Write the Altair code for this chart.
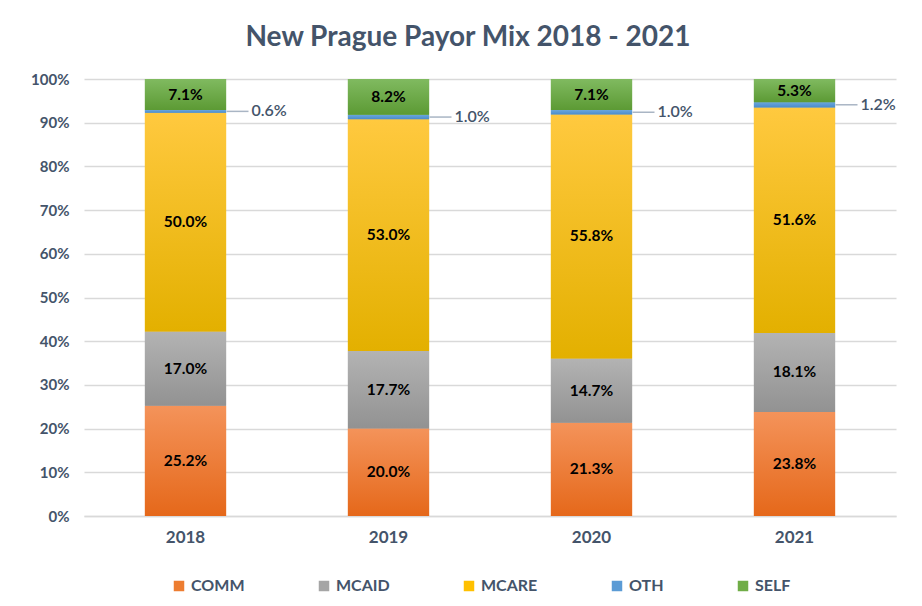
import altair as alt
import pandas as pd

years = ["2018", "2019", "2020", "2021"]
series = ["COMM", "MCAID", "MCARE", "OTH", "SELF"]
comm = [25.2, 20.0, 21.3, 23.8]
mcaid = [17.0, 17.7, 14.7, 18.1]
mcare = [50.0, 53.0, 55.8, 51.6]
oth = [0.6, 1.0, 1.0, 1.2]
self_pay = [7.1, 8.2, 7.1, 5.3]

solid = ["#ED7D31", "#A5A5A5", "#FFC000", "#5B9BD5", "#70AD47"]
grad_top = ["#F4935A", "#B3B3B3", "#FFC93F", "#6AA6DC", "#80BA60"]
grad_bottom = ["#E5681A", "#929292", "#E3B000", "#4A8CCB", "#5C9A34"]

values = [comm, mcaid, mcare, oth, self_pay]
rows = []
for si, s in enumerate(series):
    for yi, yr in enumerate(years):
        rows.append({"year": yr, "series": s, "value": values[si][yi], "order": si})
df = pd.DataFrame(rows)

FONT = "Lato"
SLATE = "#44546A"

base = (
    alt.Chart(df)
    .transform_stack(
        stack="value",
        groupby=["year"],
        as_=["y0", "y1"],
        sort=[alt.SortField("order", order="ascending")],
        offset="normalize",
    )
    .transform_calculate(
        mid="(datum.y0 + datum.y1) / 2",
        label="format(datum.value, '.1f') + '%'",
    )
)

x = alt.X(
    "year:N",
    sort=years,
    title=None,
    scale=alt.Scale(paddingInner=0.6, paddingOuter=0.3),
    axis=alt.Axis(
        labelAngle=0,
        labelFont=FONT,
        labelFontSize=17,
        labelFontWeight="bold",
        labelColor=SLATE,
        labelPadding=13,
        ticks=False,
        domainColor="#D9D9D9",
        domainWidth=1.5,
    ),
)
y = alt.Y(
    "y0:Q",
    title=None,
    scale=alt.Scale(domain=[0, 1]),
    axis=alt.Axis(
        format=".0%",
        values=[i / 10 for i in range(11)],
        labelFont=FONT,
        labelFontSize=15,
        labelFontWeight="bold",
        labelColor=SLATE,
        labelPadding=15,
        ticks=False,
        domain=False,
        gridColor="#D9D9D9",
        gridWidth=1.3,
    ),
)

legend_layer = base.mark_bar().encode(
    x=x,
    y=y,
    y2="y1:Q",
    color=alt.Color(
        "series:N",
        scale=alt.Scale(domain=series, range=solid),
        legend=alt.Legend(
            orient="none",
            legendX=87,
            legendY=499,
            direction="horizontal",
            title=None,
            symbolType="square",
            symbolSize=110,
            symbolStrokeWidth=0,
            labelFont=FONT,
            labelFontSize=16,
            labelFontWeight="bold",
            labelColor=SLATE,
            labelOffset=4,
            columnPadding=71,
        ),
    ),
)

layers = [legend_layer]
for si, s in enumerate(series):
    grad = alt.Gradient(
        gradient="linear",
        x1=0, x2=0, y1=0, y2=1,
        stops=[
            alt.GradientStop(offset=0, color=grad_top[si]),
            alt.GradientStop(offset=1, color=grad_bottom[si]),
        ],
    )
    layers.append(
        base.transform_filter(alt.datum.series == s)
        .mark_bar(color=grad)
        .encode(x=x, y=y, y2="y1:Q")
    )

inside = base.transform_filter(alt.datum.series != "OTH").mark_text(
    font=FONT, fontSize=15.5, fontWeight="bold", color="#000000"
).encode(x=x, y=alt.Y("mid:Q"), text="label:N")

leader = base.transform_filter(alt.datum.series == "OTH").mark_rule(
    color="#A9B5C4", strokeWidth=1.5, xOffset=41, x2Offset=63
).encode(x=x, x2=alt.X2("year:N"), y=alt.Y("mid:Q"))

outside = base.transform_filter(alt.datum.series == "OTH").mark_text(
    font=FONT, fontSize=16, fontWeight=600, color=SLATE, align="left", dx=66
).encode(x=x, y=alt.Y("mid:Q"), text="label:N")

chart = (
    alt.layer(*layers, inside, leader, outside)
    .properties(
        width=812,
        height=437,
        padding={"left": 76, "top": 71, "right": 18, "bottom": 82},
        autosize=alt.AutoSizeParams(type="none"),
        background="white",
        title=alt.Title(
            "New Prague Payor Mix 2018 - 2021",
            font=FONT,
            fontSize=28,
            fontWeight="bold",
            color=SLATE,
            anchor="middle",
            baseline="alphabetic",
            offset=-2,
            dx=-22,
        ),
    )
    .configure_view(stroke=None)
)

chart.save("out.html", embed_options={"renderer": "svg", "actions": False})
